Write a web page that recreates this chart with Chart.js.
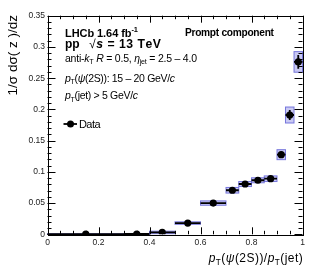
<!DOCTYPE html>
<html><head><meta charset="utf-8">
<script src="https://cdn.jsdelivr.net/npm/chart.js@4/dist/chart.umd.min.js"></script>
<style>html,body{margin:0;padding:0;background:#fff;}#wrap{width:315px;height:276px;}</style>
</head><body><div id="wrap"><canvas id="c" width="315" height="276"></canvas></div>
<script>
// ---- data ----
const binLow  = [0.0, 0.3, 0.4, 0.5, 0.6, 0.7, 0.75, 0.8, 0.85, 0.9, 0.9333, 0.9667];
const binHigh = [0.3, 0.4, 0.5, 0.6, 0.7, 0.75, 0.8, 0.85, 0.9, 0.9333, 0.9667, 1.0];
const values  = [0.0003, 0.0005, 0.003, 0.018, 0.050, 0.0705, 0.0805, 0.0865, 0.089, 0.1275, 0.191, 0.276];
const statErr = [0.0005, 0.0005, 0.001, 0.002, 0.003, 0.003, 0.003, 0.003, 0.003, 0.005, 0.008, 0.011];
const systErr = [0.0005, 0.0008, 0.002, 0.002, 0.0035, 0.0045, 0.004, 0.004, 0.0045, 0.008, 0.0128, 0.0165];
const xTickValues = [0, 0.2, 0.4, 0.6, 0.8, 1];
const yTickValues = [0, 0.05, 0.1, 0.15, 0.2, 0.25, 0.3, 0.35];

const xCenters = binLow.map((l, i) => (l + binHigh[i]) / 2);
const FAM = '"Liberation Sans", Arial, Helvetica, sans-serif';

function fontOf(s, size) {
  const sz = (s.sub || s.sup) ? size * 0.68 : size;
  return (s.i ? 'italic ' : '') + (s.b ? 'bold ' : '') + sz.toFixed(2) + 'px ' + FAM;
}
function chars(segs) {
  const out = [];
  for (const s of segs) for (const ch of Array.from(s.t)) out.push({ch, s});
  return out;
}
// draws text with fixed font size, spreading characters to reach the target width
function rich(ctx, segs, x, y, size, targetW, align) {
  const cs = chars(segs);
  let w = 0;
  for (const c of cs) { ctx.font = fontOf(c.s, size); c.w = ctx.measureText(c.ch).width; w += c.w; }
  const sp = targetW ? (targetW - w) / Math.max(1, cs.length - 1) : 0;
  const total = targetW || w;
  let cx = align === 'right' ? x - total : x;
  ctx.textBaseline = 'alphabetic';
  ctx.textAlign = 'left';
  ctx.fillStyle = '#000';
  for (const c of cs) {
    ctx.font = fontOf(c.s, size);
    const dy = c.s.sub ? size * 0.28 : (c.s.sup ? -size * 0.42 : 0);
    ctx.fillText(c.ch, cx, y + dy);
    cx += c.w + sp;
  }
}

const rootPlugin = {
  id: 'rootStyle',
  beforeDatasetsDraw(chart) {
    const ctx = chart.ctx, xs = chart.scales.x, ys = chart.scales.y;
    ctx.save();
    for (let i = 0; i < values.length; i++) {
      const x0 = xs.getPixelForValue(binLow[i]), x1 = xs.getPixelForValue(binHigh[i]);
      const y0 = ys.getPixelForValue(values[i] + systErr[i]), y1 = ys.getPixelForValue(values[i] - systErr[i]);
      ctx.fillStyle = 'rgba(120,120,225,0.40)';
      ctx.fillRect(x0, y0, x1 - x0, y1 - y0);
      ctx.strokeStyle = 'rgba(100,100,215,0.85)';
      ctx.lineWidth = 1;
      ctx.strokeRect(x0, y0, x1 - x0, y1 - y0);
    }
    ctx.strokeStyle = '#000';
    ctx.lineWidth = 1.8;
    for (let i = 0; i < values.length; i++) {
      const py = ys.getPixelForValue(values[i]);
      ctx.beginPath();
      ctx.moveTo(xs.getPixelForValue(binLow[i]), py);
      ctx.lineTo(xs.getPixelForValue(binHigh[i]), py);
      const px = xs.getPixelForValue(xCenters[i]);
      ctx.moveTo(px, ys.getPixelForValue(values[i] + statErr[i]));
      ctx.lineTo(px, ys.getPixelForValue(values[i] - statErr[i]));
      ctx.stroke();
    }
    ctx.restore();
  },
  afterDraw(chart) {
    const ctx = chart.ctx, xs = chart.scales.x, ys = chart.scales.y;
    const a = chart.chartArea;
    ctx.save();
    ctx.strokeStyle = '#000';
    ctx.lineWidth = 1;
    ctx.strokeRect(Math.round(a.left) + 0.5, Math.round(a.top) + 0.5, Math.round(a.right - a.left), Math.round(a.bottom - a.top));
    ctx.beginPath();
    for (let k = 0; k <= 35; k++) {
      const v = k * 0.01;
      const len = (k % 5 === 0) ? 8 : 4;
      const py = Math.round(ys.getPixelForValue(v)) + 0.5;
      ctx.moveTo(a.left, py); ctx.lineTo(a.left + len, py);
      ctx.moveTo(a.right, py); ctx.lineTo(a.right - len, py);
    }
    for (let k = 0; k <= 20; k++) {
      const v = k * 0.05;
      const len = (k % 4 === 0) ? 7 : 3.5;
      const px = Math.round(xs.getPixelForValue(v)) + 0.5;
      ctx.moveTo(px, a.bottom); ctx.lineTo(px, a.bottom - len);
      ctx.moveTo(px, a.top); ctx.lineTo(px, a.top + len);
    }
    ctx.stroke();

    // annotations
    rich(ctx, [{t: 'LHCb 1.64 fb', b: 1}, {t: '-1', b: 1, sup: 1}], 65, 37, 11, 73);
    rich(ctx, [{t: 'pp', b: 1}], 65, 48, 12);
    rich(ctx, [{t: '\u221A', b: 0}, {t: 's', b: 1, i: 1}, {t: ' = 13 TeV', b: 1}], 89, 48, 12.2, 72);
    rich(ctx, [{t: 'Prompt component', b: 1}], 185, 36, 10.2, 89);
    rich(ctx, [{t: 'anti-'}, {t: 'k', i: 1}, {t: 'T', sub: 1}, {t: ' '}, {t: 'R', i: 1}, {t: ' = 0.5, '},
               {t: '\u03B7', i: 1}, {t: 'jet', sub: 1}, {t: ' = 2.5 \u2013 4.0'}], 65, 61.5, 10.5, 132);
    rich(ctx, [{t: 'p', i: 1}, {t: 'T', sub: 1}, {t: '('}, {t: '\u03C8', i: 1}, {t: '(2S)): 15 \u2013 20 GeV/'}, {t: 'c', i: 1}], 65, 81.5, 10.5, 110);
    rich(ctx, [{t: 'p', i: 1}, {t: 'T', sub: 1}, {t: '(jet) > 5 GeV/'}, {t: 'c', i: 1}], 65, 99, 10.5, 73);
    // legend
    ctx.strokeStyle = '#000'; ctx.lineWidth = 1.8;
    ctx.beginPath(); ctx.moveTo(63.5, 124); ctx.lineTo(77, 124); ctx.stroke();
    ctx.fillStyle = '#000';
    ctx.beginPath(); ctx.arc(70.5, 124, 3.5, 0, Math.PI * 2); ctx.fill();
    rich(ctx, [{t: 'Data'}], 79, 128, 11, 21.5);
    // axis titles
    rich(ctx, [{t: 'p', i: 1}, {t: 'T', sub: 1}, {t: '('}, {t: '\u03C8', i: 1}, {t: '(2S))/'}, {t: 'p', i: 1}, {t: 'T', sub: 1}, {t: '(jet)'}],
         302.7, 262, 12, 94, 'right');
    ctx.save();
    ctx.translate(16.5, 15);
    ctx.rotate(-Math.PI / 2);
    rich(ctx, [{t: '1/\u03C3 d\u03C3( z )/dz'}], 0, 0, 13.5, null, 'right');
    ctx.restore();
    ctx.restore();
  }
};

const tickFont = {family: FAM, size: 8.5};
new Chart(document.getElementById('c'), {
  type: 'scatter',
  data: {
    datasets: [{
      label: 'Data',
      data: xCenters.map((x, i) => ({x: x, y: values[i]})),
      pointRadius: 3.6,
      pointBackgroundColor: '#000',
      pointBorderColor: '#000',
      pointBorderWidth: 0,
      showLine: false
    }]
  },
  options: {
    responsive: false,
    animation: false,
    devicePixelRatio: 1,
    layout: {padding: {left: 0, right: 12.5, top: 15.7, bottom: 0}},
    plugins: {legend: {display: false}, tooltip: {enabled: false}},
    scales: {
      x: {
        type: 'linear', min: 0, max: 1,
        afterFit(s) { s.height = 41.7; },
        afterBuildTicks(s) { s.ticks = xTickValues.map(v => ({value: v})); },
        grid: {display: false, drawTicks: false},
        border: {display: false},
        ticks: {font: tickFont, color: '#222', padding: 3.5, maxRotation: 0, autoSkip: false,
                callback: v => String(Math.round(v * 100) / 100)}
      },
      y: {
        type: 'linear', min: 0, max: 0.35,
        afterFit(s) { s.width = 47.5; },
        afterBuildTicks(s) { s.ticks = yTickValues.map(v => ({value: v})); },
        grid: {display: false, drawTicks: false},
        border: {display: false},
        ticks: {font: tickFont, color: '#222', padding: 2.5, autoSkip: false,
                callback: v => String(Math.round(v * 100) / 100)}
      }
    }
  },
  plugins: [rootPlugin]
});
</script>
</body></html>
